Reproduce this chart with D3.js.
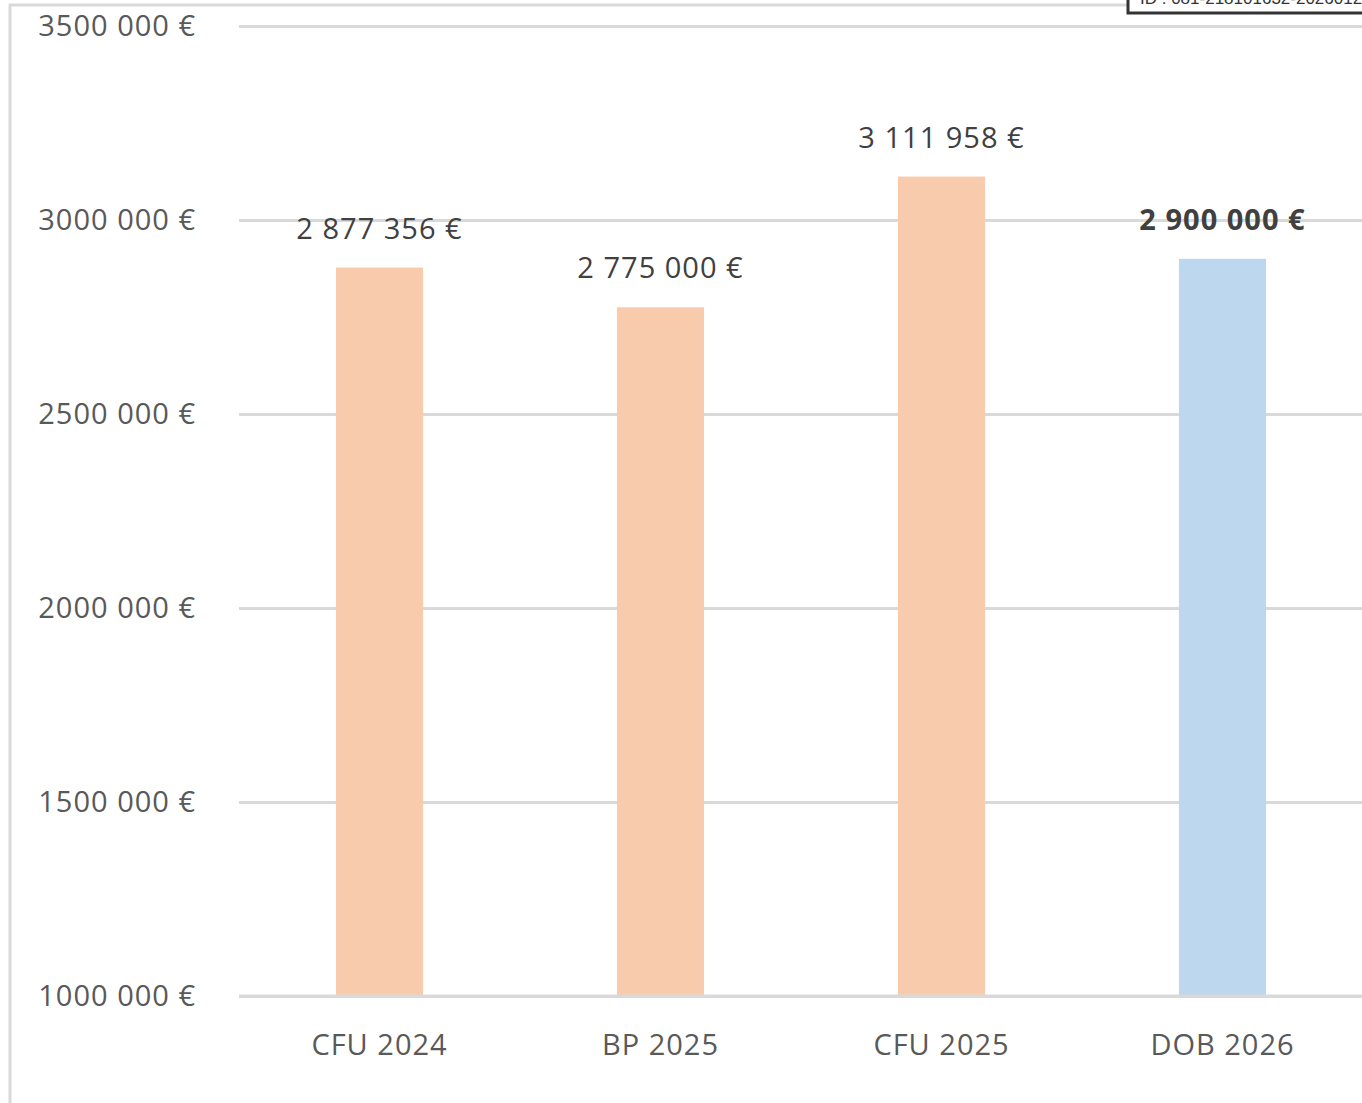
<!DOCTYPE html>
<html>
<head>
<meta charset="utf-8">
<script src="https://cdn.jsdelivr.net/npm/d3@7"></script>
<style>
  html, body { margin: 0; padding: 0; background: #fff; overflow: hidden; }
  svg { display: block; }
  text { font-family: "Open Sans", sans-serif; }
</style>
</head>
<body>
<svg id="chart"></svg>
<script>
// chart data
var categories = ["CFU 2024", "BP 2025", "CFU 2025", "DOB 2026"];
var values = [2877356, 2775000, 3111958, 2900000];
var tickValues = [1000000, 1500000, 2000000, 2500000, 3000000, 3500000];
var tickLabels = ["1000 000 €", "1500 000 €", "2000 000 €", "2500 000 €", "3000 000 €", "3500 000 €"];
var highlighted = ["DOB 2026"];
var stampText = "ID : 081-218101632-20260121-DOB2026-DE";

window.onload = function() {
    var width = 1362, height = 1103;
    var left = 239, right = 1363, top = 26, bottom = 996;

    var svg = d3.select("#chart")
        .attr("width", width)
        .attr("height", height);

    var x = d3.scaleBand()
        .domain(categories)
        .range([left, right])
        .paddingInner(0.69)
        .paddingOuter(0.345);

    var y = d3.scaleLinear()
        .domain([tickValues[0], tickValues[tickValues.length - 1]])
        .range([bottom, top]);

    var euro = d3.formatLocale({
        decimal: ",", thousands: " ", grouping: [3], currency: ["", " €"]
    }).format("$,.0f");

    // frame lines
    svg.append("line")
        .attr("x1", 10).attr("x2", 10)
        .attr("y1", 4).attr("y2", height)
        .attr("stroke", "#d9d9d9").attr("stroke-width", 3);
    svg.append("line")
        .attr("x1", 9).attr("x2", width)
        .attr("y1", 5).attr("y2", 5)
        .attr("stroke", "#d9d9d9").attr("stroke-width", 3);

    // gridlines
    var grid = svg.append("g")
        .attr("transform", "translate(" + left + ",0)")
        .call(d3.axisRight(y).tickValues(tickValues).tickSize(width - left).tickFormat(""));
    grid.select(".domain").remove();
    grid.selectAll("line").attr("stroke", "#d9d9d9").attr("stroke-width", 3);

    // y axis labels
    var yAxis = svg.append("g")
        .attr("transform", "translate(196,0)")
        .call(d3.axisLeft(y).tickValues(tickValues).tickSize(0).tickPadding(0)
            .tickFormat(function(d, i) { return tickLabels[i]; }));
    yAxis.select(".domain").remove();
    yAxis.selectAll("text")
        .attr("x", 0)
        .attr("dy", "0.32em")
        .attr("fill", "#595959")
        .style("font-family", "'Open Sans', sans-serif")
        .style("font-size", "29px")
        .style("letter-spacing", "1px")
        .attr("text-anchor", "end");

    // bars
    svg.append("g").selectAll("rect").data(values)
        .enter().append("rect")
        .attr("x", function(d, i) { return x(categories[i]); })
        .attr("width", x.bandwidth())
        .attr("y", function(d) { return y(d); })
        .attr("height", function(d) { return y(tickValues[0]) - y(d); })
        .attr("fill", function(d, i) {
            return highlighted.indexOf(categories[i]) >= 0 ? "#bdd7ee" : "#f7cbac";
        });

    // baseline over bars
    svg.append("line")
        .attr("x1", left).attr("x2", width)
        .attr("y1", y(tickValues[0])).attr("y2", y(tickValues[0]))
        .attr("stroke", "#d9d9d9").attr("stroke-width", 3);

    // data labels
    svg.append("g").selectAll("text").data(values)
        .enter().append("text")
        .attr("x", function(d, i) { return x(categories[i]) + x.bandwidth() / 2; })
        .attr("y", function(d) { return y(d) - 29; })
        .attr("text-anchor", "middle")
        .attr("fill", "#404040")
        .style("font-size", "29px")
        .style("letter-spacing", "1px")
        .style("font-weight", function(d, i) {
            return highlighted.indexOf(categories[i]) >= 0 ? "bold" : "normal";
        })
        .text(function(d) { return euro(d); });

    // category labels
    var xAxis = svg.append("g")
        .attr("transform", "translate(0," + bottom + ")")
        .call(d3.axisBottom(x).tickSize(0).tickPadding(0));
    xAxis.select(".domain").remove();
    xAxis.selectAll("text")
        .attr("y", 59)
        .attr("dy", 0)
        .attr("fill", "#595959")
        .style("font-family", "'Open Sans', sans-serif")
        .style("font-size", "29px")
        .style("letter-spacing", "1px");

    // stamp box, cut at the top edge
    var stamp = svg.append("g");
    stamp.append("rect")
        .attr("x", 1128).attr("y", -30)
        .attr("width", 300).attr("height", 43)
        .attr("fill", "#fff")
        .attr("stroke", "#333").attr("stroke-width", 3);
    stamp.append("text")
        .attr("x", 1140).attr("y", 4)
        .attr("fill", "#333")
        .style("font-family", "'Liberation Sans', Arial, sans-serif")
        .style("font-size", "17px")
        .text(stampText);
};
</script>
</body>
</html>
